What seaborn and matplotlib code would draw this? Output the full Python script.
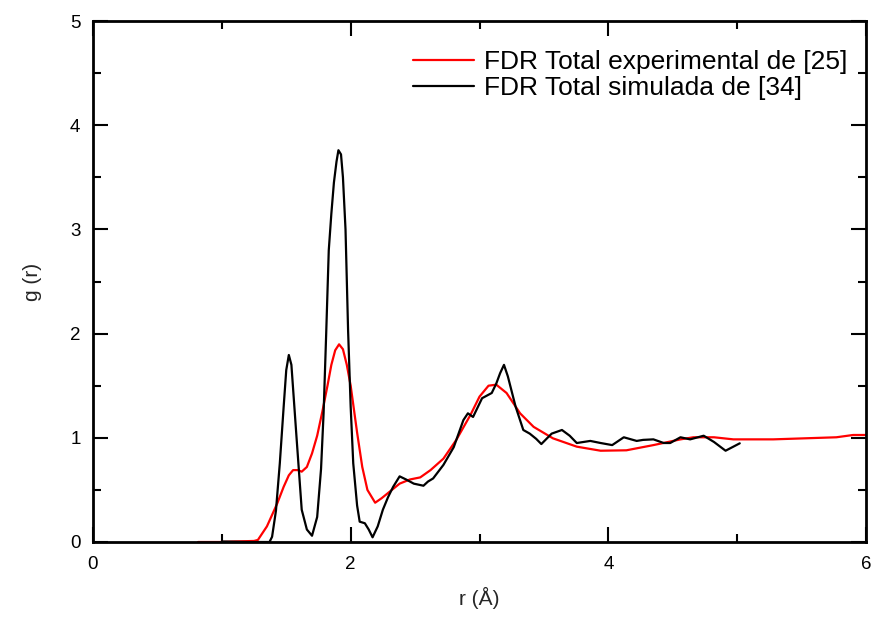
import matplotlib
matplotlib.use("Agg")
import matplotlib.pyplot as plt
from matplotlib.ticker import MultipleLocator
import seaborn as sns
import pandas as pd

# Experimental total RDF (red)
exp_r = [0.815, 1.0, 1.1, 1.25, 1.28, 1.35, 1.43, 1.48, 1.52, 1.553, 1.59, 1.62, 1.66, 1.70, 1.74,
         1.78, 1.82, 1.85, 1.88, 1.91, 1.94, 1.97, 2.0, 2.05, 2.09, 2.13, 2.19, 2.24, 2.30, 2.38,
         2.46, 2.54, 2.62, 2.72, 2.82, 2.93, 3.00, 3.07, 3.13, 3.21, 3.315, 3.42, 3.57, 3.755, 3.94,
         4.14, 4.35, 4.56, 4.66, 4.82, 4.97, 5.28, 5.77, 5.90, 6.0]
exp_g = [0.0, 0.0, 0.005, 0.01, 0.02, 0.15, 0.37, 0.53, 0.64, 0.69, 0.69, 0.675, 0.72, 0.85, 1.02,
         1.25, 1.50, 1.70, 1.84, 1.897, 1.85, 1.70, 1.50, 1.05, 0.72, 0.50, 0.377, 0.42, 0.48, 0.56,
         0.60, 0.62, 0.69, 0.80, 0.98, 1.22, 1.395, 1.50, 1.51, 1.43, 1.235, 1.105, 0.995, 0.915, 0.876,
         0.88, 0.93, 0.985, 1.005, 1.005, 0.985, 0.985, 1.005, 1.027, 1.027]

# Simulated total RDF (black)
sim_r = [1.0, 1.2, 1.37, 1.39, 1.42, 1.45, 1.48, 1.50, 1.52, 1.54, 1.56, 1.58, 1.62, 1.66, 1.70,
         1.74, 1.77, 1.79, 1.81, 1.83, 1.85, 1.87, 1.89, 1.905, 1.925, 1.94, 1.96, 1.98, 2.0, 2.02,
         2.05, 2.07, 2.11, 2.14, 2.17, 2.21, 2.25, 2.29, 2.33, 2.38, 2.43, 2.49, 2.565, 2.60, 2.64,
         2.72, 2.80, 2.875, 2.91, 2.95, 3.02, 3.095, 3.13, 3.16, 3.19, 3.22, 3.28, 3.34, 3.39, 3.44,
         3.48, 3.52, 3.56, 3.64, 3.70, 3.755, 3.86, 3.94, 4.03, 4.12, 4.22, 4.27, 4.35, 4.43, 4.48,
         4.56, 4.635, 4.74, 4.82, 4.91, 5.02]
sim_g = [0.005, 0.0, 0.0, 0.05, 0.3, 0.755, 1.3, 1.65, 1.795, 1.70, 1.35, 1.00, 0.31, 0.12, 0.06,
         0.24, 0.70, 1.24, 2.0, 2.8, 3.15, 3.45, 3.65, 3.76, 3.72, 3.50, 3.0, 2.03, 1.30, 0.755,
         0.35, 0.195, 0.18, 0.12, 0.045, 0.15, 0.31, 0.43, 0.53, 0.63, 0.60, 0.56, 0.54, 0.58, 0.61,
         0.74, 0.91, 1.17, 1.235, 1.20, 1.38, 1.43, 1.52, 1.62, 1.70, 1.59, 1.30, 1.075, 1.04, 0.99,
         0.94, 0.99, 1.04, 1.075, 1.02, 0.95, 0.97, 0.95, 0.93, 1.005, 0.97, 0.98, 0.985, 0.95, 0.95,
         1.005, 0.985, 1.02, 0.96, 0.876, 0.947]

labels = ["FDR Total experimental de [25]", "FDR Total simulada de [34]"]

sns.set_theme(style="ticks")
plt.rcParams['font.family'] = ['Liberation Sans', 'DejaVu Sans']

df = pd.concat([
    pd.DataFrame({"r": exp_r, "g": exp_g, "serie": labels[0]}),
    pd.DataFrame({"r": sim_r, "g": sim_g, "serie": labels[1]}),
])

fig = plt.figure(figsize=(8.71, 6.18), dpi=100)
ax = fig.add_axes([93/871, 1 - 542/618, (866-93)/871, (542-21)/618])

sns.lineplot(data=df, x="r", y="g", hue="serie", palette=["#ff0000", "#000000"],
             sort=False, estimator=None, linewidth=1.6, ax=ax)

ax.set_xlim(0, 6)
ax.set_ylim(0, 5)
ax.xaxis.set_major_locator(MultipleLocator(2))
ax.xaxis.set_minor_locator(MultipleLocator(1))
ax.yaxis.set_major_locator(MultipleLocator(1))
ax.yaxis.set_minor_locator(MultipleLocator(0.5))
ax.tick_params(which="both", direction="in", top=True, right=True, width=1.5, colors="black",
               labelsize=13.5)
ax.tick_params(axis="x", which="major", pad=10)
ax.tick_params(axis="y", which="major", pad=9)
ax.tick_params(which="major", length=11)
ax.tick_params(which="minor", length=6)
for s in ax.spines.values():
    s.set_linewidth(2)
    s.set_color("black")

ax.set_xlabel("r (Å)", fontsize=15, labelpad=10)
ax.set_ylabel("g (r)", fontsize=15, labelpad=20)

leg = ax.legend(loc="upper right", bbox_to_anchor=(1.0, 0.98), frameon=False, fontsize=19,
                handlelength=2.3, handletextpad=0.38, labelspacing=0.09, borderaxespad=0.3)
for t in leg.get_texts():
    t.set_color("black")

fig.savefig("out.png", dpi=100)
